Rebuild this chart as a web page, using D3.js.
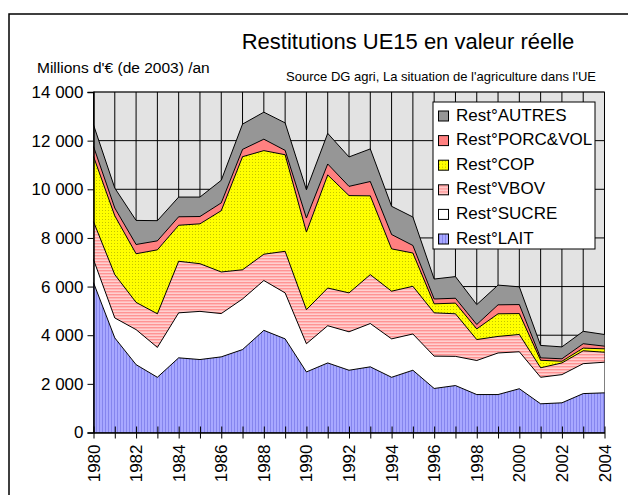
<!DOCTYPE html>
<html>
<head>
<meta charset="utf-8">
<script src="https://cdn.jsdelivr.net/npm/d3@7"></script>
<style>
  body { margin: 0; background: #fff; }
  svg { display: block; font-family: "Liberation Sans", Arial, sans-serif; }
</style>
</head>
<body>
<div id="chart"></div>
<script>
// data (Millions d'euros de 2003 / an)
var years = d3.range(1980, 2005);
var lait   = [6160, 3890, 2790, 2270, 3070, 3000, 3110, 3410, 4200, 3850, 2490, 2860, 2560, 2700, 2270, 2560, 1810, 1930, 1560, 1560, 1800, 1180, 1220, 1600, 1630];
var sucre  = [950, 820, 1440, 1230, 1850, 1980, 1780, 2080, 2050, 1890, 1160, 1530, 1580, 1780, 1580, 1490, 1330, 1200, 1400, 1710, 1520, 1090, 1160, 1230, 1260];
var vbov   = [1560, 1780, 1120, 1380, 2120, 1960, 1710, 1200, 1080, 1710, 1400, 1550, 1600, 2010, 1960, 1960, 1780, 1750, 860, 680, 710, 390, 480, 530, 410];
var cop    = [2680, 2420, 2000, 2630, 1480, 1640, 2520, 4650, 4260, 3970, 3190, 4650, 4000, 3240, 1740, 1370, 370, 440, 440, 930, 860, 310, 70, 110, 140];
var porc   = [410, 320, 380, 370, 350, 300, 320, 300, 470, 180, 580, 450, 380, 590, 590, 310, 200, 200, 180, 370, 370, 100, 100, 180, 110];
var autres = [890, 820, 990, 830, 810, 800, 930, 1040, 1110, 1130, 1160, 1260, 1210, 1340, 1160, 1170, 820, 890, 820, 810, 730, 510, 490, 510, 480];

var seriesKeys   = ["lait", "sucre", "vbov", "cop", "porc", "autres"];
var seriesLabels = ["Rest°LAIT", "Rest°SUCRE", "Rest°VBOV", "Rest°COP", "Rest°PORC&VOL", "Rest°AUTRES"];
var yTicks = [0, 2000, 4000, 6000, 8000, 10000, 12000, 14000];
var xLabelYears = d3.range(1980, 2005, 2);

var title = "Restitutions UE15 en valeur réelle";
var unitLabel = "Millions d'€ (de 2003) /an";
var sourceLabel = "Source DG agri, La situation de l'agriculture dans l'UE";

// layout
var par = {
  w: 628, h: 495,
  left: 93.5, right: 604.5, top: 92, bottom: 432.5,
  font: 17
};

var table = years.map(function(y, i) {
  return { year: y, lait: lait[i], sucre: sucre[i], vbov: vbov[i], cop: cop[i], porc: porc[i], autres: autres[i] };
});

var x = d3.scaleLinear().domain([1980, 2004]).range([par.left, par.right]);
var y = d3.scaleLinear().domain([0, 14000]).range([par.bottom, par.top]);

var svg = d3.select("#chart").append("svg")
  .attr("width", par.w).attr("height", par.h);

// fill patterns, roughly like the old Excel ones
var defs = svg.append("defs");

var pLait = defs.append("pattern").attr("id", "p_lait")
  .attr("patternUnits", "userSpaceOnUse").attr("width", 3).attr("height", 4);
pLait.append("rect").attr("width", 3).attr("height", 4).attr("fill", "#a8a8ff");
pLait.append("rect").attr("width", 1).attr("height", 4).attr("fill", "#8585ee");

var pVbov = defs.append("pattern").attr("id", "p_vbov")
  .attr("patternUnits", "userSpaceOnUse").attr("width", 4).attr("height", 3);
pVbov.append("rect").attr("width", 4).attr("height", 3).attr("fill", "#ffd0d0");
pVbov.append("rect").attr("width", 4).attr("height", 1.4).attr("fill", "#ff9494");

var pCop = defs.append("pattern").attr("id", "p_cop")
  .attr("patternUnits", "userSpaceOnUse").attr("width", 3).attr("height", 3);
pCop.append("rect").attr("width", 3).attr("height", 3).attr("fill", "#ffff00");
pCop.append("rect").attr("width", 1).attr("height", 1).attr("fill", "#c4c400");

var fills = {
  lait: "url(#p_lait)", sucre: "#ffffff", vbov: "url(#p_vbov)",
  cop: "url(#p_cop)", porc: "#ff8080", autres: "#969696"
};

// outer frame (runs off the page at right and bottom)
svg.append("rect")
  .attr("x", 9).attr("y", 14).attr("width", 640).attr("height", 520)
  .attr("fill", "none").attr("stroke", "#000").attr("stroke-width", 1.5);

// plot background
svg.append("rect")
  .attr("x", par.left).attr("y", par.top)
  .attr("width", par.right - par.left).attr("height", par.bottom - par.top)
  .attr("fill", "#e3e3e3").attr("stroke", "#808080").attr("stroke-width", 1);

// grid
svg.append("g").selectAll("line").data(years).enter().append("line")
  .attr("x1", function(d) { return x(d); }).attr("x2", function(d) { return x(d); })
  .attr("y1", par.top).attr("y2", par.bottom)
  .attr("stroke", "#000").attr("stroke-width", 1);
svg.append("g").selectAll("line").data(yTicks).enter().append("line")
  .attr("x1", par.left).attr("x2", par.right)
  .attr("y1", function(d) { return y(d); }).attr("y2", function(d) { return y(d); })
  .attr("stroke", "#000").attr("stroke-width", 1);

// stacked areas
var stack = d3.stack().keys(seriesKeys);
var layers = stack(table);

var area = d3.area()
  .x(function(d) { return x(d.data.year); })
  .y0(function(d) { return y(d[0]); })
  .y1(function(d) { return y(d[1]); });

var topLine = d3.line()
  .x(function(d) { return x(d.data.year); })
  .y(function(d) { return y(d[1]); });

svg.append("g").selectAll("path").data(layers).enter().append("path")
  .attr("d", area)
  .attr("fill", function(d) { return fills[d.key]; });

svg.append("g").selectAll("path").data(layers).enter().append("path")
  .attr("d", topLine)
  .attr("fill", "none").attr("stroke", "#000").attr("stroke-width", 1);

// axes
var yAxis = d3.axisLeft(y).tickValues(yTicks).tickSize(6).tickPadding(4)
  .tickFormat(function(d) { return d3.format(",")(d).replace(",", " "); });
var gy = svg.append("g").attr("transform", "translate(" + par.left + ",0)").call(yAxis);
gy.select(".domain").attr("stroke", "#000").attr("stroke-width", 1.5);
gy.selectAll("text").attr("font-size", par.font).attr("font-family", "Liberation Sans, Arial, sans-serif").attr("fill", "#000");

var xAxis = d3.axisBottom(x).tickValues(years).tickSize(6).tickSizeOuter(0).tickFormat("");
var gx = svg.append("g").attr("transform", "translate(0," + par.bottom + ")").call(xAxis);
gx.select(".domain").attr("stroke", "#000").attr("stroke-width", 1.5);
gx.selectAll(".tick line").attr("y1", -6).attr("stroke", "#000");

svg.append("g").selectAll("text").data(xLabelYears).enter().append("text")
  .attr("transform", function(d) { return "translate(" + (x(d) + 6) + "," + (par.bottom + 12) + ") rotate(-90)"; })
  .attr("text-anchor", "end")
  .attr("font-size", par.font)
  .text(function(d) { return d; });

// titles
svg.append("text").attr("x", 408).attr("y", 49)
  .attr("text-anchor", "middle").attr("font-size", 22).text(title);
svg.append("text").attr("x", 37).attr("y", 73)
  .attr("font-size", 15.5).text(unitLabel);
svg.append("text").attr("x", 596).attr("y", 81)
  .attr("text-anchor", "end").attr("font-size", 13).text(sourceLabel);

// legend
var leg = { x: 433, y: 102, w: 162, h: 147, row: 24.6 };
svg.append("rect")
  .attr("x", leg.x).attr("y", leg.y).attr("width", leg.w).attr("height", leg.h)
  .attr("fill", "#fff").attr("stroke", "#000").attr("stroke-width", 1);

var legendOrder = seriesKeys.slice().reverse();
var legItems = svg.append("g").selectAll("g").data(legendOrder).enter().append("g")
  .attr("transform", function(d, i) { return "translate(" + leg.x + "," + (leg.y + 18.5 + i * leg.row) + ")"; });
legItems.append("rect")
  .attr("x", 5.5).attr("y", -9.5).attr("width", 10).attr("height", 10)
  .attr("fill", function(d) { return fills[d]; })
  .attr("stroke", "#000").attr("stroke-width", 1);
legItems.append("text")
  .attr("x", 23).attr("y", 0)
  .attr("font-size", par.font)
  .text(function(d) { return seriesLabels[seriesKeys.indexOf(d)]; });
</script>
</body>
</html>
